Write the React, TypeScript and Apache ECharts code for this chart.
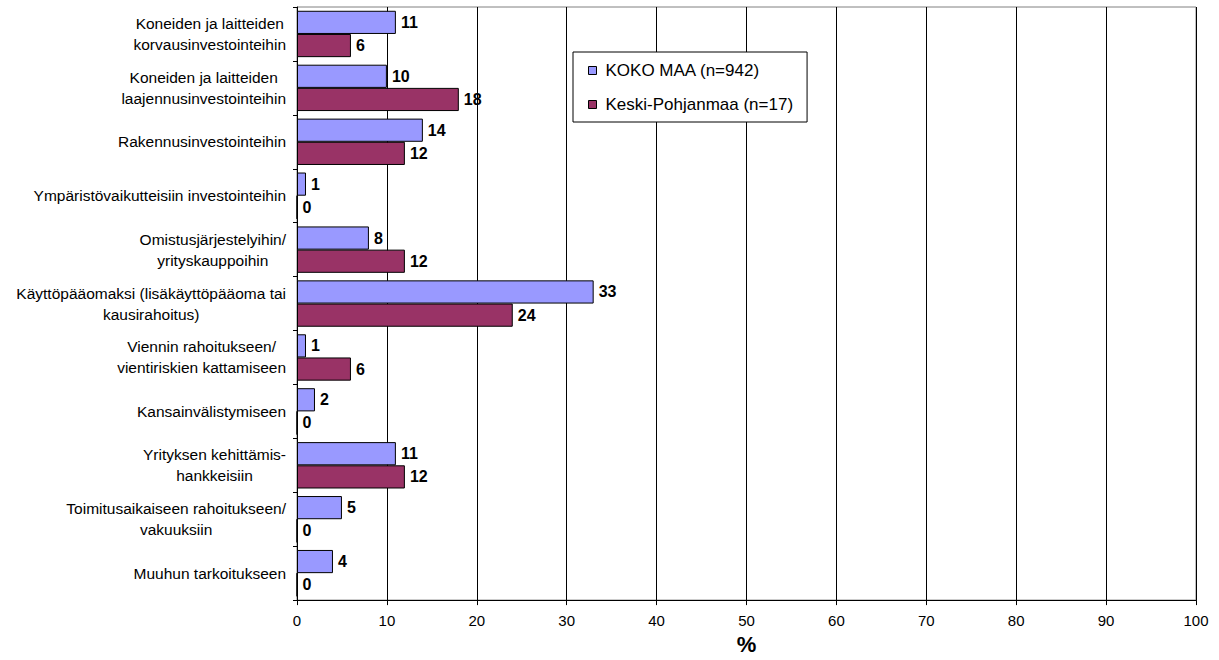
import React, { useEffect, useRef } from "react";
import * as echarts from "echarts";

const categories = [
  "Koneiden ja laitteiden\nkorvausinvestointeihin",
  "Koneiden ja laitteiden\nlaajennusinvestointeihin",
  "Rakennusinvestointeihin",
  "Ympäristövaikutteisiin investointeihin",
  "Omistusjärjestelyihin/\nyrityskauppoihin",
  "Käyttöpääomaksi (lisäkäyttöpääoma tai\nkausirahoitus)",
  "Viennin rahoitukseen/\nvientiriskien kattamiseen",
  "Kansainvälistymiseen",
  "Yrityksen kehittämis-\nhankkeisiin",
  "Toimitusaikaiseen rahoitukseen/\nvakuuksiin",
  "Muuhun tarkoitukseen",
];
const seriesNames = ["KOKO MAA (n=942)", "Keski-Pohjanmaa (n=17)"];
const kokoMaa = [11, 10, 14, 1, 8, 33, 1, 2, 11, 5, 4];
const keskiPohjanmaa = [6, 18, 12, 0, 12, 24, 6, 0, 12, 0, 0];
const colors = ["#9999FF", "#993366"];

const FONT = "Liberation Sans, Arial, sans-serif";

export default function App() {
  const ref = useRef<HTMLDivElement>(null);
  useEffect(() => {
    if (!ref.current) return;
    const chart = echarts.init(ref.current, undefined, { renderer: "svg" });
    const mkSeries = (name: string, data: number[], color: string) => ({
      name,
      type: "bar",
      data,
      barGap: "0%",
      barCategoryGap: "14%",
      itemStyle: { color, borderColor: "#000", borderWidth: 1 },
      label: {
        show: true,
        position: "right",
        distance: 5,
        color: "#000",
        fontWeight: "bold",
        fontSize: 16,
        fontFamily: FONT,
      },
    });
    chart.setOption({
      animation: false,
      textStyle: { fontFamily: FONT },
      grid: {
        left: 297,
        right: 23,
        top: 7,
        bottom: 54,
        show: true,
        borderColor: "#808080",
        borderWidth: 1,
        containLabel: false,
      },
      legend: {
        orient: "vertical",
        left: 573,
        top: 52,
        padding: [10, 14, 9, 15],
        itemGap: 17,
        itemWidth: 8,
        itemHeight: 8,
        borderColor: "#000",
        borderWidth: 1,
        backgroundColor: "#fff",
        textStyle: { color: "#000", fontSize: 17, fontFamily: FONT, padding: [0, 0, 0, 4] },
        data: seriesNames.map((n, i) => ({
          name: n,
          icon: "rect",
          itemStyle: { color: colors[i], borderColor: "#000", borderWidth: 1 },
        })),
      },
      xAxis: {
        type: "value",
        min: 0,
        max: 100,
        interval: 10,
        name: "%",
        nameLocation: "middle",
        nameGap: 31,
        nameTextStyle: { color: "#000", fontSize: 22, fontWeight: "bold", fontFamily: FONT },
        axisLine: { show: true, lineStyle: { color: "#000" } },
        axisTick: { show: true, length: 5, lineStyle: { color: "#000" } },
        axisLabel: { color: "#000", fontSize: 15, margin: 13, fontFamily: FONT },
        splitLine: { show: true, lineStyle: { color: "#000", width: 1 } },
      },
      yAxis: {
        type: "category",
        data: categories,
        inverse: true,
        axisLine: { show: true, lineStyle: { color: "#000" } },
        axisTick: { show: true, length: 4, lineStyle: { color: "#000" } },
        axisLabel: {
          color: "#000",
          fontSize: 15.5,
          margin: 11,
          align: "right",
          fontFamily: FONT,
          formatter: (v: string) =>
            v
              .split("\n")
              .map((l) => "{c|" + l + "}")
              .join("\n"),
          rich: {
            c: { align: "center", fontSize: 15.5, lineHeight: 21, color: "#000", fontFamily: FONT },
          },
        },
      },
      series: [
        mkSeries(seriesNames[0], kokoMaa, colors[0]),
        mkSeries(seriesNames[1], keskiPohjanmaa, colors[1]),
      ],
    });
    return () => chart.dispose();
  }, []);
  return <div ref={ref} style={{ width: 1219, height: 660, position: "absolute", left: 0, top: 0 }} />;
}
